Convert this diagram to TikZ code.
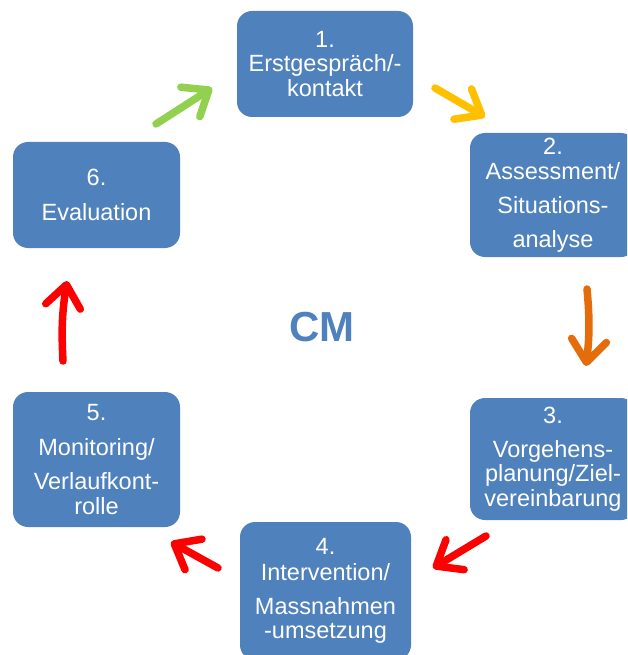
\documentclass[tikz,border=0pt]{standalone}
\usepackage{fontspec}
\setmainfont{Liberation Sans}
\usetikzlibrary{arrows.meta}
\definecolor{boxblue}{RGB}{79,129,189}
\definecolor{agreen}{RGB}{146,208,80}
\definecolor{ayellow}{RGB}{255,192,0}
\definecolor{aorange}{RGB}{228,108,10}
\definecolor{ared}{RGB}{255,0,0}
\begin{document}
\begin{tikzpicture}[x=1pt,y=-1pt,
  box/.style={rectangle, rounded corners=15pt, fill=boxblue, text=white, align=center,
    font=\fontsize{23.5}{24.5}\selectfont, inner sep=0pt},
  flow/.style={line width=7.5pt, line cap=round,
    -{Straight Barb[length=22pt,width=35pt,round]}}
]
\useasboundingbox (0,0) rectangle (627,655);
\clip (0,0) rectangle (627,655);

\node[box, minimum width=176pt, minimum height=106pt] (n1) at (325,64)
  {1.\\Erstgespräch/-\\kontakt};
\node[box, minimum width=166pt, minimum height=124pt] (n2) at (553,195)
  {2.\\Assessment/\\[10pt]Situations-\\[9pt]analyse};
\node[box, minimum width=166pt, minimum height=122pt] (n3) at (553,459)
  {3.\\[9pt]Vorgehens-\\planung/Ziel-\\vereinbarung};
\node[box, minimum width=171pt, minimum height=138pt] (n4) at (325.5,591)
  {4.\\[2pt]Intervention/\\[9pt]Massnahmen\\-umsetzung};
\node[box, minimum width=167pt, minimum height=135pt] (n5) at (96.5,459.5)
  {5.\\[10pt]Monitoring/\\[10pt]Verlaufkont-\\rolle};
\node[box, minimum width=167pt, minimum height=106pt] (n6) at (96.5,195)
  {6.\\[10pt]Evaluation};

\node[text=boxblue, font=\fontsize{42}{46}\selectfont\bfseries] (cm) at (322,327) {CM};

\coordinate (g1) at (156,124); \coordinate (g2) at (212,88);
\coordinate (y1) at (435,88);  \coordinate (y2) at (485,117);
\coordinate (o1) at (587,289); \coordinate (o2) at (586,366);
\coordinate (r1a) at (486,536); \coordinate (r1b) at (433,568);
\coordinate (r2a) at (218,568); \coordinate (r2b) at (171,542);
\coordinate (r3a) at (63,361); \coordinate (r3b) at (67,281);

\draw[flow, agreen] (g1) -- (g2);
\draw[flow, ayellow] (y1) -- (y2);
\draw[flow, aorange] (o1) to[bend left=6] (o2);
\draw[flow, ared] (r1a) -- (r1b);
\draw[flow, ared] (r2a) -- (r2b);
\draw[flow, ared] (r3a) to[bend left=6] (r3b);
\end{tikzpicture}
\end{document}
